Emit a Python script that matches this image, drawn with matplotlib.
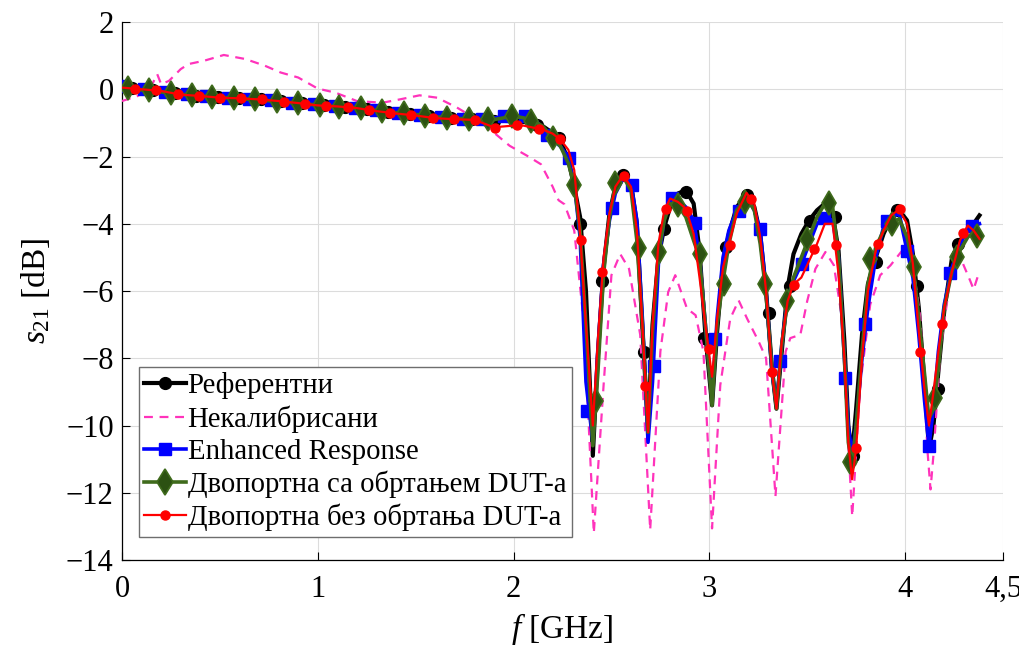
import matplotlib
matplotlib.use("Agg")
import matplotlib.pyplot as plt
from matplotlib.lines import Line2D

plt.rcParams['font.family'] = ['Liberation Serif', 'DejaVu Serif']
plt.rcParams['mathtext.fontset'] = 'custom'
plt.rcParams['mathtext.rm'] = 'Liberation Serif'
plt.rcParams['mathtext.it'] = 'Liberation Serif:italic'

labels = ['Референтни', 'Некалибрисани', 'Enhanced Response',
          'Двопортна са обртањем DUT-a', 'Двопортна без обртања DUT-a']

# common frequency grid (GHz) for the four calibrated curves
freq = [0.0, 0.1, 0.2, 0.3, 0.4, 0.5, 0.6, 0.7, 0.8, 0.9, 1.0, 1.1, 1.2, 1.3, 1.4, 1.5,
        1.6, 1.7, 1.8, 1.9, 2.0, 2.05, 2.1, 2.15, 2.2, 2.24, 2.28, 2.31, 2.34, 2.37,
        2.405, 2.43, 2.46, 2.49, 2.52, 2.56, 2.60, 2.63, 2.66, 2.687, 2.71, 2.74, 2.77,
        2.80, 2.84, 2.88, 2.92, 2.95, 2.98, 3.014, 3.04, 3.07, 3.10, 3.14, 3.19, 3.23,
        3.26, 3.29, 3.32, 3.343, 3.37, 3.40, 3.43, 3.47, 3.51, 3.55, 3.59, 3.63, 3.66,
        3.69, 3.71, 3.729, 3.75, 3.78, 3.81, 3.85, 3.89, 3.93, 3.97, 4.01, 4.04, 4.07,
        4.10, 4.122, 4.145, 4.17, 4.20, 4.24, 4.28, 4.32, 4.35, 4.38]

ref_db = [0.05, 0.0, -0.08, -0.14, -0.2, -0.24, -0.27, -0.3, -0.35, -0.4, -0.46, -0.5,
          -0.55, -0.62, -0.7, -0.75, -0.82, -0.86, -0.88, -0.93, -0.95, -0.97, -1.0,
          -1.1, -1.3, -1.55, -2.1, -2.9, -3.8, -6.0, -10.9, -8.0, -5.3, -3.7, -2.9,
          -2.55, -2.8, -4.0, -7.3, -10.1, -7.0, -5.0, -4.1, -3.5, -3.1, -3.0, -3.4,
          -4.8, -7.3, -9.4, -7.2, -5.2, -4.3, -3.5, -3.15, -3.5, -4.3, -6.0, -8.3,
          -9.5, -7.8, -5.9, -4.9, -4.3, -3.9, -3.6, -3.4, -3.7, -4.8, -7.5, -10.0,
          -10.9, -9.5, -7.3, -5.8, -5.0, -4.3, -3.8, -3.6, -3.9, -4.9, -6.5, -8.8,
          -10.7, -10.0, -8.4, -6.6, -5.0, -4.5, -4.2, -4.0, -3.75]

enh_db = [0.1, 0.02, -0.05, -0.15, -0.2, -0.25, -0.28, -0.32, -0.37, -0.42, -0.47,
          -0.52, -0.57, -0.64, -0.7, -0.75, -0.82, -0.88, -0.88, -0.85, -0.8, -0.8,
          -0.82, -1.2, -1.5, -1.7, -2.03, -2.8, -4.4, -8.7, -10.5, -7.8, -5.2, -3.9,
          -3.1, -2.65, -2.8, -3.9, -7.0, -10.5, -8.7, -5.2, -3.8, -3.3, -3.3, -3.5,
          -3.9, -5.0, -7.0, -9.2, -6.8, -5.0, -4.2, -3.6, -3.2, -3.6, -4.2, -6.0,
          -8.4, -9.4, -7.6, -6.2, -5.7, -5.2, -4.6, -4.0, -3.8, -3.9, -5.0, -8.0,
          -10.0, -10.9, -10.0, -8.0, -6.5, -5.0, -4.1, -3.8, -3.7, -4.8, -5.6, -7.3,
          -9.3, -10.6, -9.5, -7.8, -6.4, -5.3, -4.6, -4.2, -4.05, -4.0]

sa_db = [0.05, -0.02, -0.08, -0.15, -0.2, -0.24, -0.28, -0.32, -0.36, -0.42, -0.47,
         -0.52, -0.56, -0.63, -0.7, -0.75, -0.82, -0.86, -0.9, -0.9, -0.8, -0.85,
         -0.93, -1.1, -1.45, -1.7, -2.2, -2.86, -4.2, -7.0, -10.6, -8.5, -5.5, -3.8,
         -2.85, -2.6, -3.0, -4.5, -7.2, -10.2, -7.2, -4.9, -3.9, -3.4, -3.45, -3.8,
         -4.5, -5.0, -7.0, -9.4, -7.0, -5.7, -4.6, -3.6, -3.2, -3.6, -4.6, -6.1,
         -8.3, -9.5, -7.6, -6.3, -5.6, -5.0, -4.4, -3.8, -3.4, -3.5, -5.0, -8.0,
         -10.5, -11.2, -10.0, -7.8, -5.8, -4.7, -4.2, -4.0, -3.85, -4.4, -5.2, -6.8,
         -8.5, -9.8, -9.5, -8.3, -6.5, -5.4, -4.8, -4.4, -4.25, -4.4]

bez_db = [0.05, 0.0, -0.05, -0.16, -0.2, -0.25, -0.27, -0.3, -0.35, -0.41, -0.48,
          -0.51, -0.56, -0.65, -0.72, -0.78, -0.86, -0.89, -0.91, -1.13, -1.08, -1.08,
          -1.14, -1.2, -1.32, -1.5, -1.8, -2.4, -4.3, -7.0, -10.0, -7.5, -5.0, -3.7,
          -2.9, -2.55, -2.9, -4.2, -7.2, -10.2, -7.0, -4.6, -3.6, -3.25, -3.35, -3.55,
          -4.3, -5.6, -7.0, -8.55, -6.8, -5.3, -4.6, -3.7, -3.08, -3.4, -4.4, -6.0,
          -8.4, -9.5, -7.5, -6.3, -5.8, -5.6, -5.1, -4.6, -4.0, -4.0, -5.5, -8.0,
          -10.5, -11.6, -10.7, -8.0, -6.0, -4.8, -4.2, -3.75, -3.57, -4.0, -5.2, -7.2,
          -9.0, -10.0, -9.0, -7.8, -6.5, -5.4, -4.5, -4.05, -4.2, -4.45]

# uncalibrated measurement
unc_freq = [0.0, 0.08, 0.15, 0.18, 0.2, 0.24, 0.3, 0.34, 0.42, 0.52, 0.63, 0.73, 0.81,
            0.9, 1.0, 1.09, 1.2, 1.33, 1.42, 1.52, 1.61, 1.71, 1.81, 1.9, 1.98, 2.07,
            2.14, 2.2, 2.23, 2.26, 2.31, 2.36, 2.41, 2.46, 2.50, 2.545, 2.59, 2.647,
            2.698, 2.75, 2.79, 2.826, 2.886, 2.93, 2.97, 3.014, 3.056, 3.107, 3.15,
            3.193, 3.252, 3.29, 3.338, 3.39, 3.414, 3.465, 3.5, 3.542, 3.593, 3.636,
            3.678, 3.712, 3.73, 3.771, 3.822, 3.873, 3.925, 3.993, 4.035, 4.078, 4.115,
            4.13, 4.146, 4.18, 4.231, 4.282, 4.333, 4.35, 4.375]
unc_db = [-0.35, -0.2, 0.1, 0.45, 0.15, 0.25, 0.6, 0.75, 0.85, 1.02, 0.9, 0.7, 0.5,
          0.35, 0.02, -0.1, -0.35, -0.4, -0.3, -0.18, -0.25, -0.54, -0.89, -1.29,
          -1.68, -1.98, -2.23, -2.9, -3.3, -3.42, -4.2, -7.0, -13.2, -8.8, -5.53,
          -4.9, -5.34, -7.3, -13.1, -7.8, -6.03, -5.53, -6.52, -6.72, -7.8, -13.06,
          -8.8, -6.82, -6.28, -6.82, -7.5, -8.0, -12.1, -7.8, -7.4, -7.3, -6.3,
          -5.34, -4.84, -5.23, -6.82, -10.8, -12.7, -8.8, -6.4, -5.53, -5.24, -4.74,
          -5.0, -6.8, -10.8, -11.9, -10.8, -7.8, -5.6, -5.0, -5.7, -5.95, -5.5]

# marker positions / values
ref_mk_f = [0.05, 0.16, 0.27, 0.38, 0.49, 0.6, 0.71, 0.81, 0.92, 1.03, 1.14, 1.25, 1.36,
            1.47, 1.57, 1.68, 1.79, 1.9, 2.01, 2.12, 2.23, 2.34, 2.45, 2.56, 2.664,
            2.77, 2.881, 2.975, 3.085, 3.195, 3.303, 3.41, 3.516, 3.64, 3.735, 3.852,
            3.96, 4.06, 4.17, 4.27]
ref_mk_v = [0.03, -0.03, -0.12, -0.19, -0.24, -0.27, -0.3, -0.36, -0.42, -0.47, -0.52,
            -0.58, -0.67, -0.73, -0.8, -0.85, -0.87, -0.93, -0.95, -1.05, -1.45, -4.0,
            -5.7, -2.55, -7.8, -4.15, -3.05, -7.4, -4.7, -3.15, -6.65, -5.85, -3.92,
            -3.8, -10.9, -5.15, -3.6, -5.85, -8.9, -4.6]

enh_mk_f = [0.0, 0.11, 0.22, 0.33, 0.43, 0.54, 0.65, 0.76, 0.87, 0.98, 1.09, 1.19,
            1.3, 1.41, 1.52, 1.63, 1.74, 1.84, 1.95, 2.06, 2.17, 2.281, 2.375, 2.503,
            2.605, 2.715, 2.809, 2.928, 3.031, 3.15, 3.26, 3.363, 3.474, 3.584, 3.695,
            3.797, 3.908, 4.01, 4.121, 4.232, 4.342]
enh_mk_v = [0.1, 0.0, -0.08, -0.15, -0.2, -0.25, -0.28, -0.33, -0.4, -0.45, -0.5,
            -0.55, -0.62, -0.7, -0.76, -0.83, -0.87, -0.87, -0.8, -0.8, -1.35, -2.03,
            -9.57, -3.52, -2.85, -8.23, -3.22, -3.97, -7.44, -3.62, -4.16, -8.08,
            -5.2, -3.82, -8.58, -6.99, -3.92, -4.81, -10.61, -5.45, -4.07]

sa_mk_f = [0.03, 0.14, 0.25, 0.36, 0.46, 0.57, 0.68, 0.79, 0.9, 1.01, 1.11, 1.22,
           1.33, 1.44, 1.55, 1.66, 1.77, 1.87, 1.99, 2.09, 2.2, 2.31, 2.42, 2.52,
           2.639, 2.745, 2.84, 2.954, 3.073, 3.184, 3.286, 3.397, 3.499, 3.61, 3.721,
           3.823, 3.934, 4.044, 4.155, 4.266, 4.368]
sa_mk_v = [0.05, -0.03, -0.1, -0.17, -0.22, -0.25, -0.3, -0.35, -0.4, -0.46, -0.52,
           -0.56, -0.65, -0.72, -0.79, -0.84, -0.88, -0.89, -0.79, -0.94, -1.44,
           -2.86, -9.27, -2.78, -4.71, -4.85, -3.45, -4.89, -5.78, -3.36, -5.78,
           -6.3, -4.46, -3.37, -11.1, -5.06, -4.02, -5.3, -9.17, -5.0, -4.35]

bez_mk_f = [0.065, 0.175, 0.286, 0.392, 0.502, 0.61, 0.717, 0.826, 0.937, 1.044,
            1.152, 1.262, 1.37, 1.477, 1.588, 1.695, 1.804, 1.906, 2.017, 2.128,
            2.238, 2.344, 2.451, 2.562, 2.673, 2.778, 2.886, 2.997, 3.104, 3.213,
            3.32, 3.431, 3.537, 3.648, 3.751, 3.862, 3.972, 4.078, 4.189, 4.296]
bez_mk_v = [0.02, -0.02, -0.15, -0.2, -0.25, -0.27, -0.3, -0.37, -0.43, -0.5, -0.52,
            -0.61, -0.71, -0.76, -0.85, -0.89, -0.91, -1.14, -1.07, -1.17, -1.49,
            -4.47, -5.42, -2.58, -8.83, -3.55, -3.63, -7.71, -4.62, -3.26, -8.4,
            -5.83, -4.76, -4.64, -10.68, -4.61, -3.57, -7.81, -6.97, -4.27]

xticks = [0, 1, 2, 3, 4, 4.5]
xticklabels = ['0', '1', '2', '3', '4', '4,5']
yticks = [-14, -12, -10, -8, -6, -4, -2, 0, 2]

fig = plt.figure(figsize=(10.2, 6.48), dpi=100)
ax = fig.add_axes([0.1196, 0.1358, 0.8637, 0.8302])

black = '#000000'
pink = '#ff33bb'
blue = '#0000ff'
green = '#3f6b1c'
green_face = '#2c5112'
red = '#ff0000'

ax.plot(freq, ref_db, color=black, lw=3.0, zorder=3)
ax.plot(ref_mk_f, ref_mk_v, ls='none', marker='o', ms=8.5, color=black, zorder=3)
ax.plot(unc_freq, unc_db, color=pink, lw=1.6, ls=(0, (4, 3)), zorder=4)
ax.plot(freq, enh_db, color=blue, lw=2.6, zorder=5)
ax.plot(enh_mk_f, enh_mk_v, ls='none', marker='s', ms=8.5, color=blue, zorder=5)
ax.plot(freq, sa_db, color=green, lw=2.6, zorder=6)
ax.plot(sa_mk_f, sa_mk_v, ls='none', marker='d', ms=12.5, mfc=green_face, mec=green,
        mew=1.2, zorder=6)
ax.plot(freq, bez_db, color=red, lw=1.6, zorder=7)
ax.plot(bez_mk_f, bez_mk_v, ls='none', marker='o', ms=6.5, color=red, zorder=7)

handles = [
    Line2D([], [], color=black, lw=3.0, marker='o', ms=8.5),
    Line2D([], [], color=pink, lw=1.6, ls=(0, (4, 3))),
    Line2D([], [], color=blue, lw=2.6, marker='s', ms=8.5),
    Line2D([], [], color=green, lw=2.6, marker='d', ms=13.5, mfc=green_face, mec=green, mew=1.2),
    Line2D([], [], color=red, lw=1.6, marker='o', ms=6.5),
]

ax.set_xlim(0, 4.5)
ax.set_ylim(-14, 2)
ax.set_xticks(xticks)
ax.set_xticklabels(xticklabels)
ax.set_yticks(yticks)
ax.tick_params(direction='in', length=6, width=0.8, labelsize=22)
ax.tick_params(axis='x', pad=11)
ax.tick_params(axis='y', pad=6)
ax.grid(True, color='#dcdcdc', lw=0.8)
ax.set_axisbelow(True)
for s in ['top', 'right']:
    ax.spines[s].set_visible(False)
for s in ['left', 'bottom']:
    ax.spines[s].set_linewidth(0.9)

ax.set_xlabel(r'$f$ [GHz]', fontsize=24, labelpad=5)
ax.set_ylabel(r'$s_{21}$ [dB]', fontsize=24, labelpad=10)

leg = ax.legend(handles, labels, loc='lower left', bbox_to_anchor=(0.019, 0.043),
                borderaxespad=0, fontsize=20.7, frameon=True, fancybox=False,
                framealpha=1, edgecolor='#6e6e6e', handlelength=1.45,
                handletextpad=0.05, labelspacing=0.2, borderpad=0.2)
leg.get_frame().set_linewidth(1.0)

fig.savefig('out.png', dpi=100)
